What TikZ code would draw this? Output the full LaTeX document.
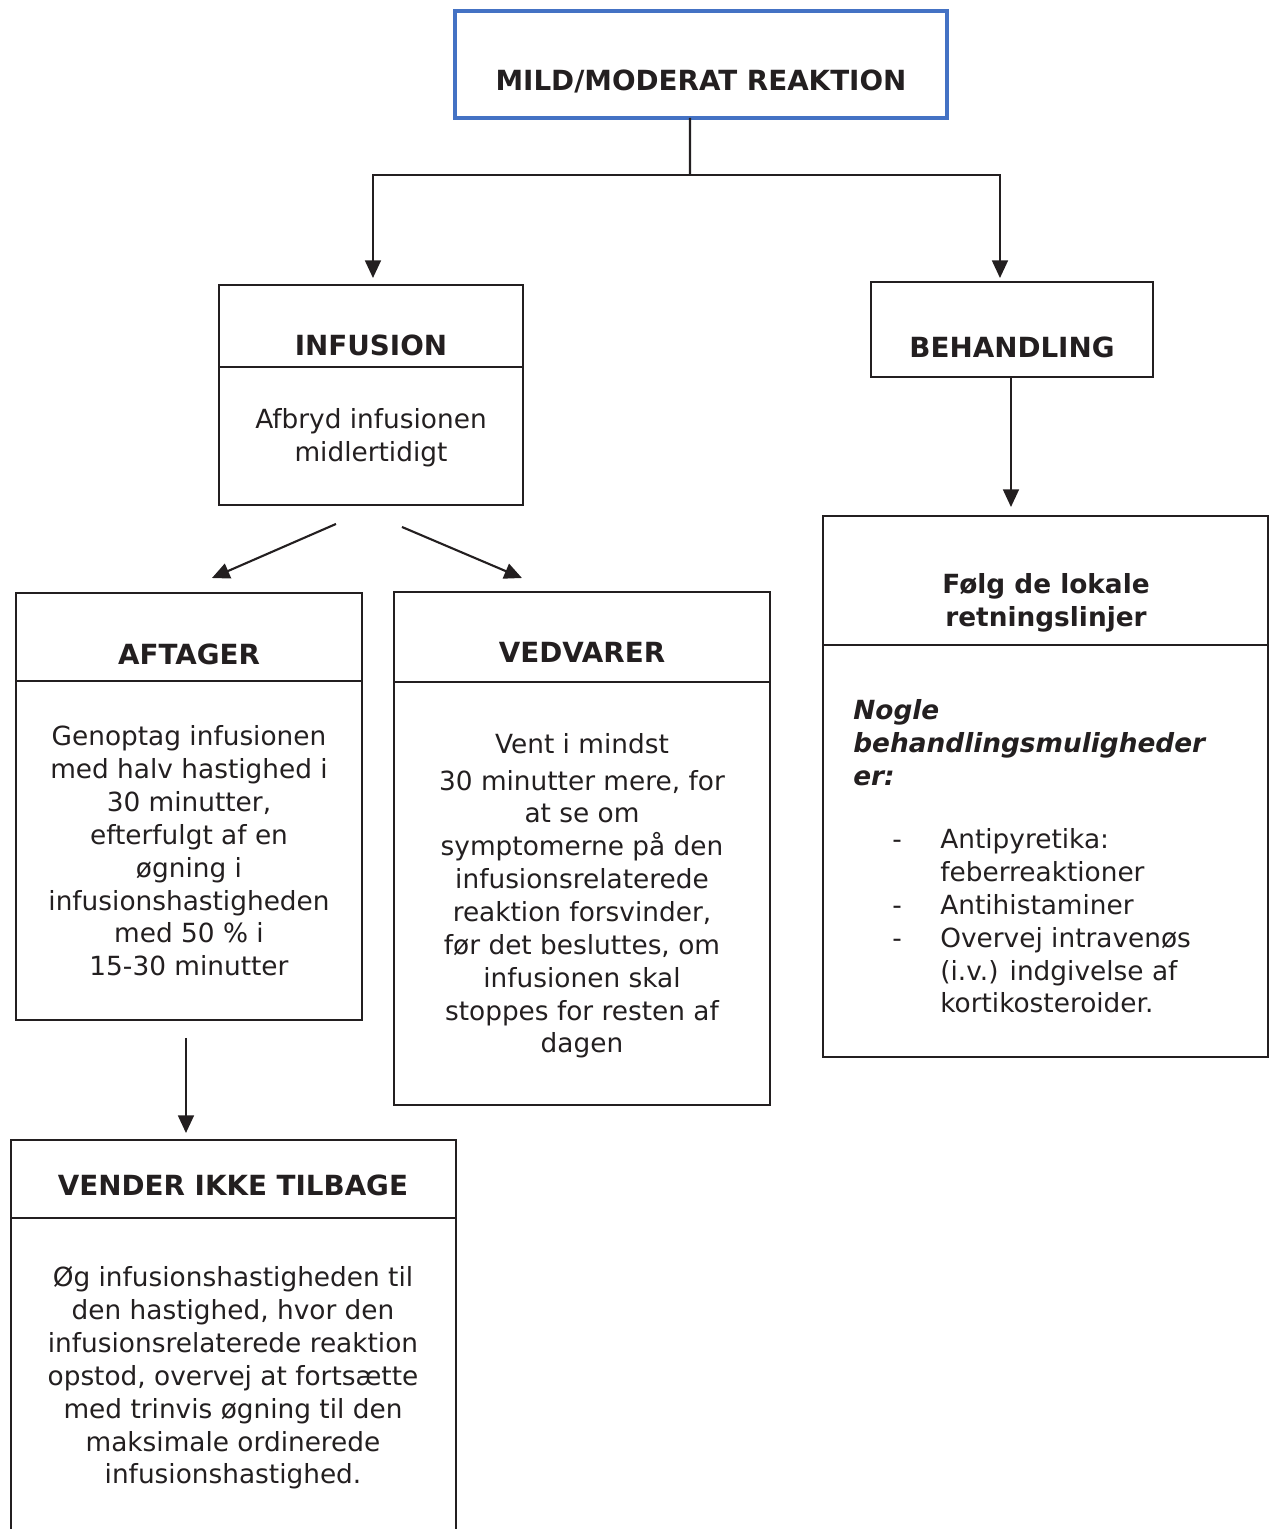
\documentclass[tikz,border=0pt]{standalone}
\usepackage{fontspec}
\setmainfont{DejaVu Sans}
\usetikzlibrary{positioning,arrows.meta}

\definecolor{ink}{HTML}{231F20}
\definecolor{frameblue}{HTML}{4472C4}
\newcommand{\boxfont}{\fontsize{15}{18.7}\selectfont}
\newcommand{\capfont}{\fontsize{15.8}{18.7}\selectfont}
\newcommand{\listdash}{\makebox[0.96cm][l]{-}}
\newcommand{\listgap}{\hspace*{0.96cm}}

\tikzset{
  panel/.style={draw=ink, line width=1.5pt, inner sep=0pt, outer sep=0pt, anchor=north west},
  divider/.style={draw=ink, line width=1.5pt},
  head/.style={font=\boxfont\bfseries, text=ink, inner sep=0pt},
  caphead/.style={font=\capfont\bfseries, text=ink, inner sep=0pt},
  body/.style={font=\boxfont, text=ink, align=center, inner sep=0pt},
  arr/.style={-{Triangle[length=10pt,width=9pt]}, line width=1.2pt, draw=ink},
}

\begin{document}
\begin{tikzpicture}[x=0.02cm, y=-0.02cm]
    \clip (0,0) rectangle (1270,1529);

    % Boxes
    \node[panel, draw=frameblue, line width=2.3pt, minimum width=9.84cm, minimum height=2.14cm] (mild) at (455,11) {};
    \node[panel, minimum width=6.08cm, minimum height=4.40cm] (inf) at (219,285) {};
    \node[panel, minimum width=5.64cm, minimum height=1.90cm] (beh) at (871,282) {};
    \node[panel, minimum width=8.90cm, minimum height=10.82cm] (loc) at (823,516) {};
    \node[panel, minimum width=6.92cm, minimum height=8.54cm] (aft) at (16,593) {};
    \node[panel, minimum width=7.52cm, minimum height=10.26cm] (ved) at (394,592) {};
    \node[panel, minimum width=8.90cm, minimum height=8.40cm] (vik) at (11,1140) {};

    % Dividers
    \draw[divider] ([yshift=-1.64cm]inf.north west) -- ([yshift=-1.64cm]inf.north east);
    \draw[divider] ([yshift=-2.58cm]loc.north west) -- ([yshift=-2.58cm]loc.north east);
    \draw[divider] ([yshift=-1.76cm]aft.north west) -- ([yshift=-1.76cm]aft.north east);
    \draw[divider] ([yshift=-1.80cm]ved.north west) -- ([yshift=-1.80cm]ved.north east);
    \draw[divider] ([yshift=-1.56cm]vik.north west) -- ([yshift=-1.56cm]vik.north east);

    % Texts
    \node[caphead] (mildtitle) at (701,81) {MILD/MODERAT REAKTION};
    \node[caphead] (inftitle) at (371,345) {INFUSION};
    \node[body] (inftext) at (371,438) {Afbryd infusionen\\midlertidigt};
    \node[caphead] (behtitle) at (1012,347) {BEHANDLING};
    \node[head, align=center] (loctitle) at (1046,603) {Følg de lokale\\retningslinjer};
    \node[head, font=\boxfont\bfseries\itshape, align=left, anchor=west] (opttitle) at (853,743) {Nogle\\behandlingsmuligheder\\er:};
    \node[body, align=left, anchor=west] (optlist) at (892,921) {\listdash Antipyretika:\\\listgap feberreaktioner\\\listdash Antihistaminer\\\listdash Overvej intravenøs\\\listgap (i.v.) indgivelse af\\\listgap kortikosteroider.};
    \node[caphead] (afttitle) at (189,654) {AFTAGER};
    \node[body] (afttext) at (189,851) {Genoptag infusionen\\med halv hastighed i\\30 minutter,\\efterfulgt af en\\øgning i\\infusionshastigheden\\med 50~\% i\\15-30 minutter};
    \node[caphead] (vedtitle) at (582,652) {VEDVARER};
    \node[body] (vedtext) at (582,896) {Vent i mindst\\[2pt]30 minutter mere, for\\at se om\\symptomerne på den\\infusionsrelaterede\\reaktion forsvinder,\\før det besluttes, om\\infusionen skal\\stoppes for resten af\\dagen};
    \node[caphead] (viktitle) at (233,1185) {VENDER IKKE TILBAGE};
    \node[body] (viktext) at (233,1378) {Øg infusionshastigheden til\\den hastighed, hvor den\\infusionsrelaterede reaktion\\opstod, overvej at fortsætte\\med trinvis øgning til den\\maksimale ordinerede\\infusionshastighed.};

    % Arrows
    \coordinate (split) at (690,175);
    \draw[ink, line width=1.2pt] ([xshift=-0.22cm]mild.south) -- (split);
    \draw[arr, shorten >=0.14cm] (split) -| ([xshift=0.04cm]inf.north);
    \draw[arr, shorten >=0.08cm] (split) -| ([xshift=-0.24cm]beh.north);
    \draw[arr, shorten >=0.18cm] ([xshift=-0.02cm]beh.south) -- ([xshift=-0.02cm]beh.south |- loc.north);

    \coordinate (infl) at ([xshift=-0.70cm,yshift=-0.38cm]inf.south);
    \coordinate (infr) at ([xshift=0.62cm,yshift=-0.44cm]inf.south);
    \coordinate (aftin) at ([xshift=0.46cm,yshift=0.30cm]aft.north);
    \coordinate (vedin) at ([xshift=-1.20cm,yshift=0.28cm]ved.north);
    \draw[arr] (infl) -- (aftin);
    \draw[arr] (infr) -- (vedin);

    \draw[arr, shorten <=0.36cm, shorten >=0.14cm] ([xshift=-0.06cm]aft.south) -- ([xshift=-0.06cm]aft.south |- vik.north);
\end{tikzpicture}
\end{document}
